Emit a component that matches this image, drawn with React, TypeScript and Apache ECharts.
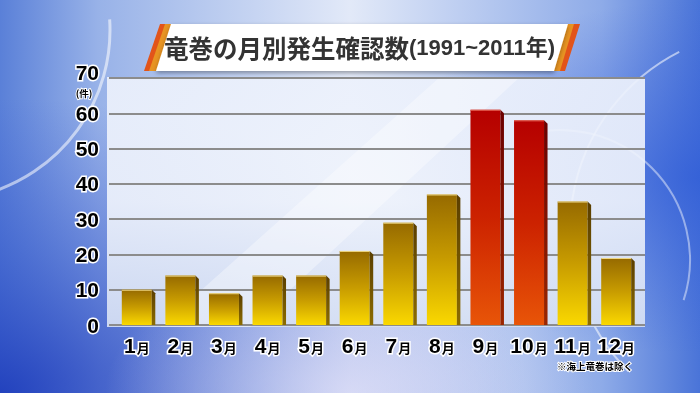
import React, { useEffect, useRef } from 'react';
import * as echarts from 'echarts';

const categories = ['1月', '2月', '3月', '4月', '5月', '6月', '7月', '8月', '9月', '10月', '11月', '12月'];
const counts = [10, 14, 9, 14, 14, 21, 29, 37, 61, 58, 35, 19];
const peakMonths = ['9月', '10月'];
const yMin = 0;
const yMax = 70;
const yInterval = 10;
const unitLabel = '(件)';
const titleMain = '竜巻の月別発生確認数';
const titleSub = '(1991~2011年)';
const noteText = '※海上竜巻は除く';

const LAT = '"Liberation Sans", Arial, sans-serif';
const CJK = '"Noto Sans CJK JP", sans-serif';

const lg = (x: number, y: number, x2: number, y2: number, stops: [number, string][]) =>
  new echarts.graphic.LinearGradient(x, y, x2, y2, stops.map(([offset, color]) => ({ offset, color })));
const rg = (x: number, y: number, r: number, stops: [number, string][]) =>
  new echarts.graphic.RadialGradient(x, y, r, stops.map(([offset, color]) => ({ offset, color })));

export default function App() {
  const ref = useRef<HTMLDivElement>(null);
  useEffect(() => {
    const chart = echarts.init(ref.current!, null, { renderer: 'svg' });
    const isPeak = (i: number) => peakMonths.includes(categories[i]);
    const goldFront = lg(0, 0, 0, 1, [[0, '#966a00'], [0.5, '#c89c00'], [1, '#fad800']]);
    const redFront = lg(0, 0, 0, 1, [[0, '#b50000'], [0.5, '#cc2200'], [1, '#e85508']]);
    const goldSide = lg(0, 0, 0, 1, [[0, '#5a3e00'], [1, '#8c6c00']]);
    const redSide = lg(0, 0, 0, 1, [[0, '#6a0000'], [1, '#9a2600']]);
    const labelBase = { color: '#000', textBorderColor: '#fff', textBorderWidth: 3, fontWeight: 'bold' };

    const option: any = {
      animation: false,
      title: {
        text: `{a|${titleMain}}{b|${titleSub}}`,
        left: 164,
        top: 31,
        padding: 0,
        z: 20,
        textStyle: {
          rich: {
            a: { fontFamily: CJK, fontWeight: 'bold', fontSize: 24.5, color: '#333333', lineHeight: 32 },
            b: { fontFamily: LAT + ', ' + CJK, fontWeight: 'bold', fontSize: 22, color: '#333333', lineHeight: 32 },
          },
        },
      },
      grid: [
        { left: 109, right: 55, top: 78, bottom: 68 },
        { left: 115, right: 62, top: 78, bottom: 68 },
      ],
      xAxis: [
        {
          gridIndex: 0,
          type: 'category',
          data: categories,
          axisLabel: { show: false },
          axisTick: { show: false },
          axisLine: {
            show: true,
            lineStyle: { color: '#ffffff', width: 5, shadowColor: 'rgba(0,0,0,0.45)', shadowBlur: 3, shadowOffsetY: 2 },
          },
          z: 3,
        },
        {
          gridIndex: 1,
          type: 'category',
          data: categories,
          axisLine: { show: false },
          axisTick: { show: false },
          axisLabel: {
            interval: 0,
            margin: 10,
            formatter: (v: string) => `{n|${v.replace('月', '')}}{m|月}`,
            rich: {
              n: { ...labelBase, fontFamily: LAT, fontSize: 21, verticalAlign: 'bottom', lineHeight: 21 },
              m: { ...labelBase, fontFamily: CJK, fontSize: 13, verticalAlign: 'bottom', lineHeight: 19, padding: [0, 0, 2, 1] },
            },
          },
        },
      ],
      yAxis: [
        {
          gridIndex: 0,
          type: 'value',
          min: yMin,
          max: yMax,
          interval: yInterval,
          axisLine: {
            show: true,
            lineStyle: { color: '#ffffff', width: 4, shadowColor: 'rgba(0,0,0,0.35)', shadowBlur: 3, shadowOffsetX: -1 },
          },
          axisTick: { show: false },
          splitLine: { show: true, lineStyle: { color: '#8c8c8c', width: 2 } },
          axisLabel: {
            margin: 10,
            fontFamily: LAT,
            fontSize: 21,
            ...labelBase,
            formatter: (v: number) => (v === yMax ? `{t|${v}}` : `${v}`),
            rich: { t: { fontFamily: LAT, fontSize: 21, ...labelBase, padding: [0, 0, 11, 0] } },
          },
        },
        {
          gridIndex: 1,
          type: 'value',
          min: yMin,
          max: yMax,
          interval: yInterval,
          show: false,
        },
      ],
      series: [
        {
          type: 'bar',
          xAxisIndex: 1,
          yAxisIndex: 1,
          barWidth: 30,
          z: 4,
          data: counts.map((v, i) => ({ value: v, itemStyle: { color: isPeak(i) ? redFront : goldFront } })),
        },
        {
          type: 'custom',
          xAxisIndex: 1,
          yAxisIndex: 1,
          z: 5,
          data: counts.map((v, i) => [i, v]),
          renderItem: (params: any, api: any) => {
            const idx = api.value(0);
            const top = api.coord([idx, api.value(1)]);
            const base = api.coord([idx, 0]);
            const hw = 15;
            const d = 3.5;
            const peak = isPeak(idx);
            return {
              type: 'group',
              children: [
                {
                  type: 'polygon',
                  shape: {
                    points: [
                      [top[0] + hw, top[1]],
                      [top[0] + hw + d, top[1] + d],
                      [top[0] + hw + d, base[1]],
                      [top[0] + hw, base[1]],
                    ],
                  },
                  style: { fill: peak ? redSide : goldSide },
                },
                {
                  type: 'line',
                  shape: { x1: top[0] - hw, y1: top[1] + 0.5, x2: top[0] + hw, y2: top[1] + 0.5 },
                  style: { stroke: peak ? '#e86a5a' : '#f2dc8a', lineWidth: 1 },
                },
              ],
            };
          },
        },
      ],
      graphic: [
        {
          type: 'rect', z: -20, silent: true,
          shape: { x: 0, y: 0, width: 700, height: 393 },
          style: {
            fill: lg(0, 0, 1, 0, [[0, '#5a80d8'], [0.14, '#98b2e8'], [0.5, '#e2e9f8'], [0.86, '#8eabe8'], [1, '#4a74d8']]),
          },
        },
        {
          type: 'rect', z: -19, silent: true,
          shape: { x: 0, y: 0, width: 700, height: 393 },
          style: { fill: rg(0, 1, 0.75, [[0, 'rgba(25,55,185,0.85)'], [0.5, 'rgba(45,80,200,0.45)'], [1, 'rgba(60,90,210,0)']]) },
        },
        {
          type: 'rect', z: -19, silent: true,
          shape: { x: 0, y: 0, width: 700, height: 393 },
          style: { fill: rg(1, 0.45, 0.45, [[0, 'rgba(45,90,215,0.7)'], [1, 'rgba(60,100,220,0)']]) },
        },
        {
          type: 'rect', z: -19, silent: true,
          shape: { x: 0, y: 0, width: 700, height: 393 },
          style: { fill: rg(0.5, 1, 0.35, [[0, 'rgba(232,230,250,0.7)'], [1, 'rgba(232,230,250,0)']]) },
        },
        {
          type: 'arc', z: -18, silent: true,
          shape: { cx: 770, cy: 230, r: 200, startAngle: Math.PI * 0.75, endAngle: Math.PI * 1.35 },
          style: { stroke: 'rgba(255,255,255,0.55)', lineWidth: 2, fill: 'none' },
        },
        {
          type: 'arc', z: -18, silent: true,
          shape: { cx: 560, cy: 260, r: 130, startAngle: -Math.PI * 0.6, endAngle: Math.PI * 0.1 },
          style: { stroke: 'rgba(255,255,255,0.45)', lineWidth: 2, fill: 'none' },
        },
        {
          type: 'arc', z: -18, silent: true,
          shape: { cx: -60, cy: 30, r: 170, startAngle: -Math.PI * 0.02, endAngle: Math.PI * 0.42 },
          style: { stroke: 'rgba(255,255,255,0.55)', lineWidth: 3, fill: 'none' },
        },
        {
          type: 'rect', z: -10, silent: true,
          shape: { x: 107, y: 77, width: 538, height: 250 },
          style: { fill: lg(0, 0, 0, 1, [[0, 'rgba(236,241,252,0.92)'], [0.5, 'rgba(240,244,252,0.9)'], [1, 'rgba(214,224,244,0.92)']]) },
        },
        {
          type: 'polygon', z: -9, silent: true,
          shape: { points: [[160, 327], [250, 327], [520, 77], [440, 77]] },
          style: { fill: 'rgba(255,255,255,0.35)' },
        },
        {
          type: 'polygon', z: 10, silent: true,
          shape: { points: [[160, 24], [580, 24], [565, 71], [144, 71]] },
          style: { fill: '#e2541a' },
        },
        {
          type: 'polygon', z: 11, silent: true,
          shape: { points: [[165, 24], [574, 24], [560, 71], [149, 71]] },
          style: { fill: '#e89422' },
        },
        {
          type: 'polygon', z: 12, silent: true,
          shape: { points: [[171, 24], [568, 24], [554, 71], [156, 71]] },
          style: { fill: '#ffffff', shadowBlur: 4, shadowColor: 'rgba(0,0,0,0.35)', shadowOffsetY: 2 },
        },
        {
          type: 'text', z: 30, silent: true,
          x: 84, y: 93,
          style: {
            text: unitLabel, fontFamily: CJK, fontWeight: 'bold', fontSize: 9.5, fill: '#000',
            stroke: '#fff', lineWidth: 2, align: 'center', verticalAlign: 'middle',
          },
        },
        {
          type: 'text', z: 30, silent: true,
          x: 633, y: 366,
          style: {
            text: noteText, fontFamily: CJK, fontWeight: 'bold', fontSize: 9.5, fill: '#000',
            stroke: '#fff', lineWidth: 2, align: 'right', verticalAlign: 'middle',
          },
        },
      ],
    };
    chart.setOption(option);
    return () => chart.dispose();
  }, []);
  return <div ref={ref} style={{ position: 'fixed', left: 0, top: 0, width: 700, height: 393 }} />;
}
